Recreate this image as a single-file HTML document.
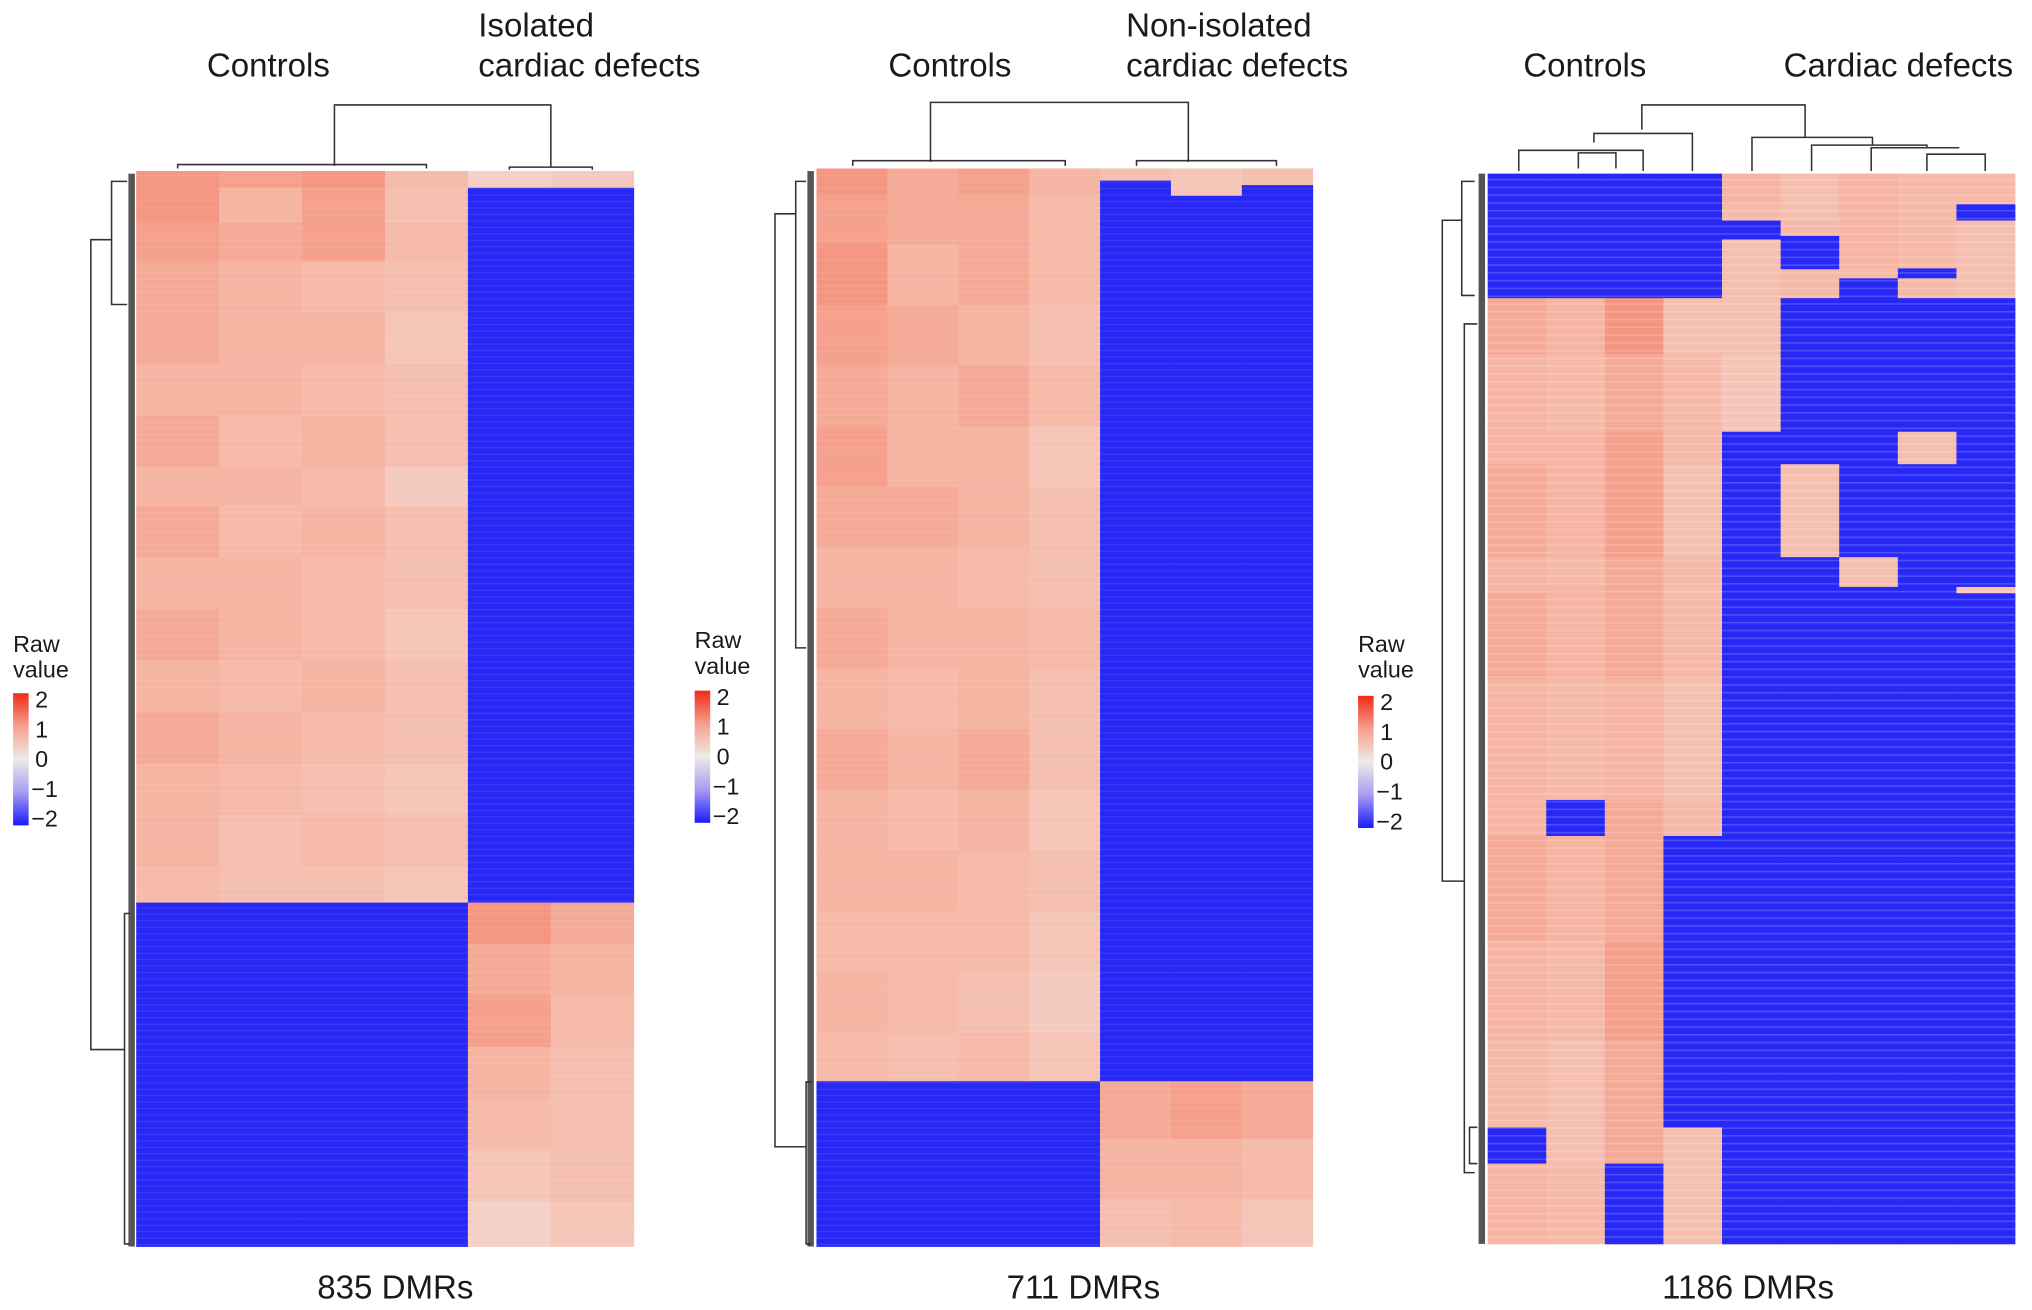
<!DOCTYPE html>
<html><head><meta charset="utf-8"><style>
html,body{margin:0;padding:0;background:#fff;}
svg{display:block;}
text{font-family:"Liberation Sans",sans-serif;fill:#1a1a1a;}
</style></head><body>
<svg id="fig" width="2032" height="1310" viewBox="0 0 1568 1011" xmlns="http://www.w3.org/2000/svg">
<defs>
<linearGradient id="cbar" x1="0" y1="0" x2="0" y2="1">
<stop offset="0" stop-color="#f02a18"/><stop offset="0.25" stop-color="#f5a08c"/><stop offset="0.5" stop-color="#efeaea"/><stop offset="0.75" stop-color="#a89cf0"/><stop offset="1" stop-color="#1a1aff"/>
</linearGradient>
<pattern id="stripes" width="4" height="6" patternUnits="userSpaceOnUse"><rect x="0" y="0" width="4" height="1.2" fill="#ffffff" opacity="0.18"/></pattern>
<pattern id="rowlines" width="4" height="5" patternUnits="userSpaceOnUse"><rect x="0" y="0" width="4" height="1" fill="#ffffff" opacity="0.08"/></pattern>
</defs>
<g id="layer"></g>
</svg>
<script>
const B = -2;
// Panel 1: 835 DMRs, 6 columns (4 controls, 2 isolated cardiac defects)
const p1RowStarts = [0,13,40,70,110,150,190,230,260,300,340,380,420,460,500,540,568,600,640,680,720,760,800];
const p1Values = [
 [1.3,1.2,1.3,0.9,0.5,0.6],
 [1.3,1.0,1.2,0.8,B,B],
 [1.2,1.1,1.2,0.9,B,B],
 [1.1,1.0,0.9,0.8,B,B],
 [1.1,1.0,1.0,0.7,B,B],
 [1.0,1.0,0.9,0.8,B,B],
 [1.1,0.9,1.0,0.8,B,B],
 [1.0,1.0,0.9,0.6,B,B],
 [1.1,0.9,1.0,0.8,B,B],
 [1.0,1.0,0.9,0.8,B,B],
 [1.1,1.0,0.9,0.7,B,B],
 [1.0,0.9,1.0,0.8,B,B],
 [1.1,1.0,0.9,0.8,B,B],
 [1.0,0.9,0.8,0.7,B,B],
 [1.0,0.8,0.9,0.8,B,B],
 [0.9,0.8,0.8,0.7,B,B],
 [B,B,B,B,1.3,1.1],
 [B,B,B,B,1.1,1.0],
 [B,B,B,B,1.2,0.9],
 [B,B,B,B,1.0,0.8],
 [B,B,B,B,0.9,0.8],
 [B,B,B,B,0.7,0.8],
 [B,B,B,B,0.5,0.7]
];
// Panel 2: 711 DMRs, 7 columns (4 controls, 3 non-isolated)
const p2RowStarts = [0,8,11,18,50,90,130,170,210,250,290,330,370,410,450,490,530,570,602,640,680];
const p2Values = [
 [1.3,1.1,1.2,1.0,0.8,0.7,0.8],
 [1.3,1.1,1.2,1.0,B,0.7,0.8],
 [1.3,1.1,1.2,1.0,B,0.7,B],
 [1.2,1.1,1.1,0.9,B,B,B],
 [1.3,1.0,1.1,0.9,B,B,B],
 [1.2,1.1,1.0,0.8,B,B,B],
 [1.1,1.0,1.1,0.9,B,B,B],
 [1.2,1.0,1.0,0.7,B,B,B],
 [1.1,1.1,1.0,0.8,B,B,B],
 [1.0,1.0,0.9,0.8,B,B,B],
 [1.1,1.0,1.0,0.9,B,B,B],
 [1.0,0.9,1.0,0.8,B,B,B],
 [1.1,1.0,1.1,0.8,B,B,B],
 [1.0,0.9,1.0,0.7,B,B,B],
 [1.0,1.0,0.9,0.8,B,B,B],
 [0.9,0.9,0.9,0.7,B,B,B],
 [1.0,0.9,0.8,0.6,B,B,B],
 [0.9,0.8,0.9,0.7,B,B,B],
 [B,B,B,B,1.1,1.2,1.1],
 [B,B,B,B,1.0,1.0,0.9],
 [B,B,B,B,0.8,0.9,0.7]
];
// Panel 3: 1186 DMRs, 9 columns (4 controls, 5 cardiac defects)
const p3RowStarts = [0,34,52,69,73,105,106,116,138,200,286,322,425,458,465,560,694,734,850,960,1057,1097];
const p3Values = [
 [B,B,B,B,1.0,0.8,1.0,0.9,0.9],
 [B,B,B,B,0.9,0.8,1.0,0.9,B],
 [B,B,B,B,B,0.9,1.0,0.9,0.8],
 [B,B,B,B,B,B,1.0,0.9,0.8],
 [B,B,B,B,0.8,B,1.0,0.9,0.8],
 [B,B,B,B,0.8,B,0.9,B,0.8],
 [B,B,B,B,0.8,0.9,0.9,B,0.8],
 [B,B,B,B,0.8,0.9,B,0.9,0.8],
 [1.1,1.0,1.3,0.8,0.8,B,B,B,B],
 [1.0,0.9,1.1,0.9,0.7,B,B,B,B],
 [1.0,1.0,1.2,0.9,B,B,B,0.8,B],
 [1.1,1.0,1.2,0.8,B,0.8,B,B,B],
 [1.0,0.9,1.1,0.9,B,B,0.8,B,B],
 [1.0,1.0,1.1,0.8,B,B,B,B,0.7],
 [1.1,1.0,1.1,0.9,B,B,B,B,B],
 [1.0,0.9,1.0,0.8,B,B,B,B,B],
 [1.0,B,1.1,0.9,B,B,B,B,B],
 [1.1,1.0,1.1,B,B,B,B,B,B],
 [1.0,0.9,1.2,B,B,B,B,B,B],
 [0.9,0.8,1.1,B,B,B,B,B,B],
 [B,0.8,1.1,0.8,B,B,B,B,B],
 [1.0,0.9,B,0.8,B,B,B,B,B]
];
const panelTitles = ["835 DMRs","711 DMRs","1186 DMRs"];
const legendTicks = ["2","1","0","\u22121","\u22122"];

const NS="http://www.w3.org/2000/svg";
const layer=document.getElementById('layer');
function mk(tag,attrs,parent){const e=document.createElementNS(NS,tag);for(const k in attrs)e.setAttribute(k,attrs[k]);(parent||layer).appendChild(e);return e;}
function lerp(a,b,t){return a.map((v,i)=>Math.round(v+(b[i]-v)*t));}
function color(v){
  if(v<=-1.5) return 'rgb(40,40,246)';
  const c0=[242,236,234],c1=[246,180,162],c2=[240,80,55],cb=[150,140,240],cb2=[30,30,255];
  let c;
  if(v>=1) c=lerp(c1,c2,Math.min(1,v-1));
  else if(v>=0) c=lerp(c0,c1,v);
  else if(v>=-1) c=lerp(c0,cb,-v);
  else c=lerp(cb,cb2,-v-1);
  return 'rgb('+c.join(',')+')';
}
function drawHeat(name,x0,x1,y0,y1,nRows,starts,vals,stripes){
  const g=mk('g',{});
  
  
  const nCols=vals[0].length;
  const xs=c=>x0+(x1-x0)*c/nCols;
  const ys=r=>y0+(y1-y0)*r/nRows;
  for(let b=0;b<starts.length;b++){
    const r0=starts[b], r1=(b+1<starts.length)?starts[b+1]:nRows;
    for(let c=0;c<nCols;c++){
      const rc=mk('rect',{x:xs(c),y:ys(r0),width:xs(c+1)-xs(c)+0.3,height:ys(r1)-ys(r0)+0.3,fill:color(vals[b][c])},g);
      
      
    }
  }
  mk('rect',{x:x0,y:y0,width:x1-x0,height:y1-y0,fill:stripes?'url(#stripes)':'url(#rowlines)'},g);
}
drawHeat('heatmap-835',105,489,132,962,835,p1RowStarts,p1Values,false);
drawHeat('heatmap-711',630,1013,130,962,711,p2RowStarts,p2Values,false);
drawHeat('heatmap-1186',1148,1555,134,960,1186,p3RowStarts,p3Values,true);

function line(pts,name){
  const p=mk('polyline',{points:pts,fill:'none',stroke:'#333',"stroke-width":1.2});
  
  
}
line('258,128 258,81 425,81 425,129','column-dendrogram-1');
line('137,130 137,127 329,127 329,130','column-dendrogram-1-controls');
line('393,131 393,129 457,129 457,131','column-dendrogram-1-defects');
line('718,125 718,79 917,79 917,125','column-dendrogram-2');
line('658,128 658,124 822,124 822,128','column-dendrogram-2-controls');
line('877,128 877,124 985,124 985,128','column-dendrogram-2-defects');
line('1267,100 1267,81 1393,81 1393,106','column-dendrogram-3');
line('1218,130 1218,118 1247,118 1247,130','column-dendrogram-3-a');
line('1230,110 1230,103 1306,103 1306,132','column-dendrogram-3-b');
line('1172,132 1172,116 1268,116 1268,132','column-dendrogram-3-c');
line('1352,132 1352,106 1445,106 1445,112','column-dendrogram-3-d');
line('1398,132 1398,112 1487,112 1487,114','column-dendrogram-3-e');
line('1444,132 1444,114 1512,114','column-dendrogram-3-f');
line('1487,132 1487,119 1532,119 1532,132','column-dendrogram-3-g');
line('86,185 70,185 70,810 96,810','row-dendrogram-1');
line('98,140 86,140 86,235 98,235','row-dendrogram-1-top');
line('100,705 96,705 96,960 100,960','row-dendrogram-1-bottom');
line('614,165 598,165 598,885 622,885','row-dendrogram-2');
line('622,140 614,140 614,500 622,500','row-dendrogram-2-top');
line('626,835 622,835 622,960 626,960','row-dendrogram-2-bottom');
line('1128,170 1113,170 1113,680 1130,680','row-dendrogram-3');
line('1138,140 1128,140 1128,228 1138,228','row-dendrogram-3-top');
line('1140,250 1130,250 1130,905 1138,905','row-dendrogram-3-mid');
line('1140,870 1134,870 1134,898 1140,898','row-dendrogram-3-bottom');
[[98,134,962],[622,132,962],[1140,134,960]].forEach((d,i)=>{
  const r=mk('rect',{x:d[0]+1,y:d[1],width:5,height:d[2]-d[1],fill:'#2a2a2a',opacity:0.8});
  
  
});

function txt(x,y,s,name,anchor){
  const t=mk('text',{x:x,y:y,"font-size":25.5,"text-anchor":anchor||'middle'});
  t.textContent=s;
  
  
}
txt(207,59,'Controls','group-label-controls-1');
txt(369,28,'Isolated','group-label-defects-1-line1','start');
txt(369,59,'cardiac defects','group-label-defects-1-line2','start');
txt(733,59,'Controls','group-label-controls-2');
txt(869,28,'Non-isolated','group-label-defects-2-line1','start');
txt(869,59,'cardiac defects','group-label-defects-2-line2','start');
txt(1223,59,'Controls','group-label-controls-3');
txt(1465,59,'Cardiac defects','group-label-defects-3');
txt(305,1002,panelTitles[0],'panel-title-1');
txt(836,1002,panelTitles[1],'panel-title-2');
txt(1349,1002,panelTitles[2],'panel-title-3');

[[10,497,535],[536,494,533],[1048,497,537]].forEach((L,i)=>{
  const g=mk('g',{});
  
  
  const t1=mk('text',{x:L[0],y:L[1]+6,"font-size":18},g);t1.textContent='Raw';
  const t2=mk('text',{x:L[0],y:L[1]+26,"font-size":18},g);t2.textContent='value';
  const r=mk('rect',{x:L[0],y:L[2],width:12,height:102,fill:'url(#cbar)'},g);
  
  
  legendTicks.forEach((s,k)=>{
    const tk=mk('text',{x:L[0]+(s.length>1?14:17),y:L[2]+5+k*23+6,"font-size":18},g);
    tk.textContent=s;
    
    
  });
});
</script>
</body></html>
